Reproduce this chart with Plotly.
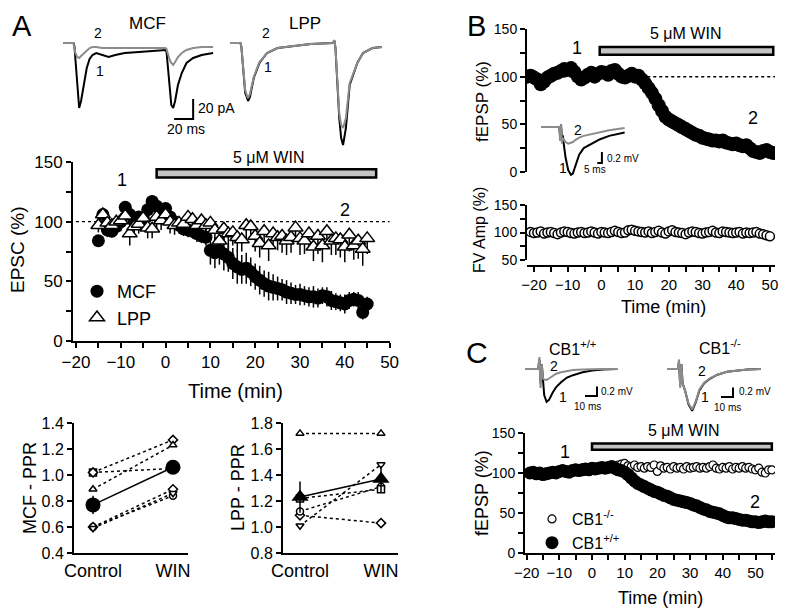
import plotly.graph_objects as go

W, H = 800, 614
OFF = 8   # the page body adds an 8 px margin; layout positions below are in screen pixels
FONT = 'Liberation Sans, Arial, sans-serif'
GRAY = '#8c8c8c'
BAR_FILL = '#c4c4c4'

# ---------------- data ----------------
# Panel A, EPSC time course (% of baseline), 1-min bins
a_time = list(range(-15, 46))
a_mcf = [84, 106, 93, 92, 96, 100, 112, 106, 100, 104, 103, 110, 117, 113, 107, 111,
         104, 100, 97, 94, 93, 92, 90, 88, 87,
         76, 74, 76, 73, 70, 65, 62, 60, 61, 58, 54, 51, 48, 46, 45, 44,
         43, 41, 40, 39, 39, 38, 37, 37, 36, 38, 37, 34, 33, 32, 31, 34, 35, 34, 24, 31]
a_mcf_err = [4, 5, 6, 5, 5, 6, 4, 5, 5, 4, 5, 4, 5, 5, 4, 5,
             5, 5, 6, 5, 6, 6, 7, 6, 7,
             12, 13, 12, 14, 12, 13, 14, 12, 13, 12, 11, 12, 11, 12, 11, 10,
             9, 10, 9, 8, 9, 8, 8, 9, 8, 7, 8, 8, 7, 7, 8, 7, 6, 7, 6, 6]
a_lpp = [97, 106, 99, 97, 100, 101, 105, 90, 96, 98, 103, 95, 94, 104, 101, 106,
         100, 97, 99, 98, 104, 102, 97, 101, 97, 99, 93, 84, 94, 90, 91, 87, 85, 97, 96,
         88, 82, 92, 80, 90, 87, 88, 84, 87, 95, 86, 84, 90, 79, 88, 80, 92, 84, 86, 85,
         79, 89, 80, 84, 77, 86]
a_lpp_err = [6, 8, 7, 8, 10, 9, 8, 10, 9, 8, 7, 9, 8, 10, 8, 9, 10, 8, 9, 10,
             11, 9, 10, 12, 9, 10, 11, 10, 12, 13, 11, 12, 10, 12, 11, 13, 12, 10, 13, 12,
             11, 14, 12, 13, 12, 14, 11, 13, 12, 15, 14, 13, 12, 14, 15, 13, 14, 12, 15, 14, 13]
a_win = [-2, 47]          # drug application (min)

# Panel A, example EPSC traces (ms, pA)
mcf_t = [0, 11, 12, 13, 15, 17, 19, 22, 25, 28, 31, 35, 41, 48, 55, 65, 80, 95, 108, 109,
         110, 112, 114, 116, 118, 121, 125, 130, 137, 146, 158]
mcf_1 = [0, 0, -3, -17, -45, -65, -58, -40, -25, -16, -12, -10, -12, -14, -12, -10, -9, -8, -7, -9,
         -20, -45, -62, -65, -58, -42, -30, -20, -15, -12, -10]
mcf_2 = [0, 0, -5, -10, -14, -15, -13, -10, -7, -5, -4, -4, -5, -5, -5, -5, -5, -5, -5, -6,
         -10, -16, -20, -22, -19, -14, -10, -7, -5, -4, -4]
lpp_t = [0, 11, 12, 14, 16, 18, 19, 21, 25, 31, 39, 50, 66, 85, 108, 110, 111, 113, 115, 117,
         119, 122, 126, 134, 140, 150, 160]
lpp_1 = [0, 0, -4, -30, -50, -55, -58, -54, -35, -20, -10, -5, -3, -1, 0, 2, -5, -40, -75, -95,
         -102, -85, -42, -20, -10, -5, -4]
lpp_2 = [0, 0, -4, -28, -47, -53, -55, -51, -34, -19, -10, -5, -3, -1, 0, 3, -5, -38, -70, -82,
         -85, -75, -40, -20, -10, -5, -4]

# Panel A, paired-pulse ratios
ppr_x = [0, 1]
ppr_labels = ['Control', 'WIN']
mcf_cells = [[1.02, 1.05], [1.02, 1.27], [0.89, 1.23], [0.60, 0.84], [0.60, 0.89], [0.59, 0.86]]
mcf_syms = ['square', 'diamond', 'triangle-up', 'circle', 'diamond', 'triangle-down']
mcf_mean = [0.77, 1.06]
mcf_sem = [0.07, 0.05]
lpp_cells = [[1.72, 1.72], [1.01, 1.48], [1.09, 1.03], [1.12, 1.31], [1.22, 1.29]]
lpp_syms = ['triangle-up', 'triangle-down', 'diamond', 'circle', 'square']
lpp_mean = [1.23, 1.37]
lpp_sem = [0.12, 0.10]

# Panel B, fEPSP and fibre volley
b_time = list(range(-22, 52))
b_fepsp = [100, 101, 99, 97, 92, 95, 99, 101, 103, 104,
           106, 108, 107, 109, 105, 100, 97, 99, 102, 104,
           100, 103, 105, 104, 102, 106, 107, 103, 100, 99,
           101, 103, 100, 101, 97, 93, 88, 83, 77, 70,
           64, 58, 55, 53, 51, 49, 47, 45, 43, 41,
           39, 38, 36, 35, 34, 33, 33, 32, 33, 31,
           30, 29, 30, 28, 27, 28, 25, 22, 21, 20,
           22, 23, 21, 20]
fv_time = list(range(-21, 51))
fv_amp = [101, 99, 100, 102, 98, 100, 101, 99, 97, 100,
          102, 101, 99, 98, 100, 101, 99, 100, 102, 100,
          98, 101, 100, 99, 101, 103, 101, 99, 100, 104,
          105, 103, 102, 101, 100, 102, 99, 101, 103, 100,
          98, 102, 104, 101, 100, 99, 97, 100, 102, 101,
          99, 98, 100, 101, 103, 100, 99, 102, 101, 100,
          99, 100, 101, 98, 100, 99, 100, 101, 98, 97,
          95, 93]
fv_err = [3, 2, 3, 3, 2, 3, 3, 2, 3, 3, 2, 3, 3, 2, 3, 3, 2, 3, 3, 2,
          3, 3, 2, 3, 3, 3, 3, 2, 3, 3, 3, 3, 2, 3, 3, 3, 3, 3, 3, 3,
          3, 4, 3, 3, 4, 3, 3, 4, 3, 3, 4, 3, 4, 4, 3, 4, 4, 3, 4, 4,
          4, 4, 5, 4, 4, 5, 4, 5, 5, 6, 6, 8]
b_win = [-0.5, 51]
b_t = [0, 20, 21, 22, 23, 24, 25, 27, 30, 33, 35, 38, 42, 47, 56, 65, 75, 92]
b_1 = [0, 0, -0.15, 0.05, -0.2, -0.15, -0.3, -0.55, -0.78, -0.86, -0.84, -0.7, -0.5, -0.38, -0.3, -0.22, -0.16, -0.1]
b_2 = [0, 0, -0.25, 0.05, -0.3, -0.2, -0.22, -0.27, -0.3, -0.29, -0.27, -0.23, -0.19, -0.16, -0.13, -0.1, -0.06, -0.02]

# Panel C, CB1 knockout vs wild type
c_time = list(range(-19, 56))
c_wt = [100, 101, 99, 100, 98, 99, 100, 101, 100, 102, 103, 102, 101, 103, 104, 103, 104, 105, 104,
        106, 105, 106, 107, 106, 107, 108, 106, 104, 103, 101, 98, 94, 90, 87, 85, 83, 81, 79, 77,
        76, 74, 72, 71, 69, 67, 66, 65, 64, 63, 62, 60, 59, 57, 55, 54, 52, 51, 50, 49, 47, 45,
        44, 44, 43, 42, 41, 41, 40, 39, 39, 38, 39, 40, 39, 39]
c_ko = [99, 100, 101, 99, 100, 101, 100, 102, 101, 103, 102, 104, 103, 104, 105, 104, 106, 105, 106,
        107, 106, 107, 108, 107, 108, 109, 108, 110, 111, 112, 109, 108, 110, 107, 108, 106, 108, 107,
        110, 102, 109, 106, 107, 105, 108, 106, 107, 105, 108, 106, 107, 108, 106, 107, 106, 108, 110,
        106, 105, 107, 106, 108, 105, 107, 106, 108, 106, 107, 105, 104, 106, 101, 100, 104, 104]
c_win = [0, 55]
cw_t = [0, 11, 12, 13, 14, 15, 16, 18, 20, 23, 26, 30, 35, 40, 48, 56, 65, 77]
cw_1 = [0, 0, 0.2, -0.3, 0.1, -0.35, -0.55, -0.69, -0.65, -0.5, -0.38, -0.28, -0.18, -0.13, -0.07, -0.03, -0.01, 0]
cw_2 = [0, 0, 0.25, -0.4, 0.1, -0.2, -0.22, -0.23, -0.2, -0.15, -0.1, -0.07, -0.04, -0.02, -0.01, 0, 0, 0]
ck_t = [0, 9, 10, 11, 12, 13, 15, 18, 21, 24, 27, 31, 36, 42, 50, 58, 67, 78]
ck_1 = [0, 0, 0.15, -0.35, 0.1, -0.3, -0.45, -0.75, -0.88, -0.7, -0.45, -0.3, -0.2, -0.12, -0.06, -0.03, -0.01, 0]
ck_2 = [0, 0, 0.2, -0.4, 0.1, -0.3, -0.45, -0.73, -0.85, -0.68, -0.43, -0.29, -0.19, -0.12, -0.06, -0.03, -0.01, 0]


# ---------------- helpers (screen pixel layout -> paper / axis ranges) ----------------
def px_x(p):
    return (p - OFF) / W


def px_y(p):
    return 1 - (p - OFF) / H


def dx(p0, p1):
    return [px_x(p0), px_x(p1)]


def dy(top, bottom):
    return [px_y(bottom), px_y(top)]


def xr(p0, p1, pref, vref, ppu):
    return [vref + (p0 - pref) / ppu, vref + (p1 - pref) / ppu]


def yr(top, bottom, pref, vref, ppu):
    return [vref - (bottom - pref) / ppu, vref - (top - pref) / ppu]


def ax(size, **kw):
    d = dict(showline=True, linecolor='black', linewidth=2, ticks='outside', ticklen=5,
             tickwidth=2, tickcolor='black', showgrid=False, zeroline=False, automargin=False,
             tickfont=dict(size=size, color='black', family=FONT))
    d.update(kw)
    return d


def hidden(**kw):
    d = dict(visible=False, showgrid=False, zeroline=False, fixedrange=True, automargin=False)
    d.update(kw)
    return d


def minor(step):
    return dict(dtick=step, ticks='outside', ticklen=5, tickwidth=2, tickcolor='black')


fig = go.Figure()

# ---- A main ----
fig.add_trace(go.Scatter(x=a_time, y=a_mcf, mode='markers', name='MCF', legend='legend',
                         marker=dict(size=13, color='black'),
                         error_y=dict(type='data', array=a_mcf_err, color='black', thickness=1.5, width=0),
                         xaxis='x', yaxis='y'))
fig.add_trace(go.Scatter(x=a_time, y=a_lpp, mode='markers', name='LPP', legend='legend',
                         marker=dict(size=13, symbol='triangle-up', color='white',
                                     line=dict(color='black', width=1.5)),
                         error_y=dict(type='data', symmetric=False, array=[0] * len(a_lpp),
                                      arrayminus=a_lpp_err, color='black', thickness=1.5, width=0),
                         xaxis='x', yaxis='y'))

# ---- A PPR ----
for cell, sym in zip(mcf_cells, mcf_syms):
    fig.add_trace(go.Scatter(x=ppr_x, y=cell, mode='lines+markers', showlegend=False,
                             line=dict(color='black', width=1.5, dash='dot'),
                             marker=dict(symbol=sym, size=7, color='white', line=dict(color='black', width=1.5)),
                             xaxis='x2', yaxis='y2'))
fig.add_trace(go.Scatter(x=ppr_x, y=mcf_mean, mode='lines+markers', showlegend=False,
                         line=dict(color='black', width=1.5), marker=dict(size=15, color='black'),
                         error_y=dict(type='data', array=mcf_sem, color='black', thickness=1.5, width=0),
                         xaxis='x2', yaxis='y2'))
for cell, sym in zip(lpp_cells, lpp_syms):
    fig.add_trace(go.Scatter(x=ppr_x, y=cell, mode='lines+markers', showlegend=False,
                             line=dict(color='black', width=1.5, dash='dot'),
                             marker=dict(symbol=sym, size=7, color='white', line=dict(color='black', width=1.5)),
                             xaxis='x3', yaxis='y3'))
fig.add_trace(go.Scatter(x=ppr_x, y=lpp_mean, mode='lines+markers', showlegend=False,
                         line=dict(color='black', width=1.5),
                         marker=dict(size=15, symbol='triangle-up', color='black'),
                         error_y=dict(type='data', array=lpp_sem, color='black', thickness=1.5, width=0),
                         xaxis='x3', yaxis='y3'))

# ---- B ----
fig.add_trace(go.Scatter(x=b_time, y=b_fepsp, mode='markers', showlegend=False,
                         marker=dict(size=14, color='black'), xaxis='x4', yaxis='y4'))
fig.add_trace(go.Scatter(x=fv_time, y=fv_amp, mode='markers', showlegend=False,
                         marker=dict(size=9, color='white', line=dict(color='black', width=1.5)),
                         error_y=dict(type='data', array=fv_err, color='black', thickness=1.5, width=0),
                         xaxis='x5', yaxis='y5'))

# ---- C ----
fig.add_trace(go.Scatter(x=c_time, y=c_ko, mode='markers', name='CB1<sup>-/-</sup>', legend='legend2',
                         marker=dict(size=8, color='white', line=dict(color='black', width=1.2)),
                         xaxis='x6', yaxis='y6'))
fig.add_trace(go.Scatter(x=c_time, y=c_wt, mode='markers', name='CB1<sup>+/+</sup>', legend='legend2',
                         marker=dict(size=13, color='black'), xaxis='x6', yaxis='y6'))


# ---- example traces ----
def trace_pair(t, v1, v2, xa, ya):
    fig.add_trace(go.Scatter(x=t, y=v1, mode='lines', showlegend=False,
                             line=dict(color='black', width=2), xaxis=xa, yaxis=ya))
    fig.add_trace(go.Scatter(x=t, y=v2, mode='lines', showlegend=False,
                             line=dict(color=GRAY, width=2), xaxis=xa, yaxis=ya))


def scale_bar(t_end, v_low, dt, dv, xa, ya):
    fig.add_trace(go.Scatter(x=[t_end - dt, t_end, t_end], y=[v_low, v_low, v_low + dv],
                             mode='lines', showlegend=False, line=dict(color='black', width=2),
                             xaxis=xa, yaxis=ya))


trace_pair(mcf_t, mcf_1, mcf_2, 'x7', 'y7')
scale_bar(137, -76, 20, 20, 'x7', 'y7')
trace_pair(lpp_t, lpp_1, lpp_2, 'x8', 'y8')
trace_pair(b_t, b_1, b_2, 'x9', 'y9')
scale_bar(67, -0.65, 5, 0.2, 'x9', 'y9')
trace_pair(cw_t, cw_1, cw_2, 'x10', 'y10')
scale_bar(60, -0.57, 10, 0.2, 'x10', 'y10')
trace_pair(ck_t, ck_1, ck_2, 'x11', 'y11')
scale_bar(55, -0.59, 10, 0.2, 'x11', 'y11')

# ---------------- shapes: drug bars and baseline lines ----------------
shapes = []
for xref, yref, win, ylo, yhi in [('x', 'y', a_win, 137, 144), ('x4', 'y4', b_win, 123, 131),
                                  ('x6', 'y6', c_win, 129, 137)]:
    shapes.append(dict(type='rect', xref=xref, yref=yref, x0=win[0], x1=win[1], y0=ylo, y1=yhi,
                       fillcolor=BAR_FILL, line=dict(color='black', width=2.5)))
shapes.append(dict(type='line', xref='x', yref='y', x0=-20, x1=50, y0=100, y1=100,
                   line=dict(color='black', width=1.2, dash='dot'), layer='below'))
shapes.append(dict(type='line', xref='x4', yref='y4', x0=-22, x1=51.5, y0=100, y1=100,
                   line=dict(color='black', width=1.5, dash='dot'), layer='below'))

# ---------------- text ----------------
ann = []


def label(text, px, py, size, xanchor='center', angle=0):
    ann.append(dict(text=text, x=px_x(px), y=px_y(py), xref='paper', yref='paper',
                    xanchor=xanchor, yanchor='middle', showarrow=False, textangle=angle,
                    font=dict(size=size, color='black', family=FONT)))


label('A', 22, 26, 29)
label('B', 476, 26, 29)
label('C', 477, 352, 30)
label('MCF', 147, 23, 17)
label('LPP', 305, 23, 17)
label('2', 98, 33, 14)
label('1', 100, 71, 14)
label('2', 266, 33, 14)
label('1', 268, 67, 14)
label('20 pA', 196, 108, 14, 'left')
label('20 ms', 186, 129, 14)
label('5 \u03bcM WIN', 268, 157, 16)
label('1', 122, 180, 18)
label('2', 345, 210, 18)
label('EPSC (%)', 18, 250, 19, angle=-90)
label('Time (min)', 236, 391, 20)
label('MCF - PPR', 30, 488, 18, angle=-90)
label('LPP - PPR', 238, 487, 18, angle=-90)
label('5 \u03bcM WIN', 685, 33, 16)
label('1', 577, 48, 18)
label('2', 753, 118, 18)
label('2', 578, 130, 14)
label('1', 563, 168, 14)
label('0.2 mV', 605, 158, 10, 'left')
label('5 ms', 595, 169, 10)
label('fEPSP (%)', 482, 102, 17, angle=-90)
label('FV Amp (%)', 480, 230, 16, angle=-90)
label('Time (min)', 663, 307, 18)
label('CB1<sup>+/+</sup>', 572, 348, 16)
label('CB1<sup>-/-</sup>', 720, 347, 16)
label('2', 554, 366, 14)
label('1', 563, 397, 14)
label('0.2 mV', 599, 391, 10, 'left')
label('10 ms', 587, 406, 10)
label('2', 702, 371, 14)
label('1', 705, 397, 14)
label('0.2 mV', 737, 392, 10, 'left')
label('10 ms', 727, 407, 10)
label('5 \u03bcM WIN', 683, 430, 16)
label('1', 565, 452, 18)
label('2', 755, 502, 18)
label('fEPSP (%)', 482, 493, 18, angle=-90)
label('Time (min)', 660, 598, 18)

fig.update_layout(
    width=W, height=H, margin=dict(l=0, r=0, t=0, b=0, autoexpand=False),
    paper_bgcolor='white', plot_bgcolor='rgba(0,0,0,0)',
    font=dict(family=FONT, color='black'),
    shapes=shapes, annotations=ann,
    legend=dict(x=px_x(77), y=px_y(273), xanchor='left', yanchor='top', bgcolor='rgba(0,0,0,0)',
                font=dict(size=18, family=FONT), itemsizing='trace', tracegroupgap=0),
    legend2=dict(x=px_x(532), y=px_y(502), xanchor='left', yanchor='top', bgcolor='rgba(0,0,0,0)',
                 font=dict(size=16, family=FONT), itemsizing='trace', tracegroupgap=0),
    # A main
    xaxis=ax(17, domain=dx(73, 390), range=xr(73, 390, 76, -20, 4.48), anchor='y',
             tickvals=list(range(-20, 51, 10)), minor=minor(5)),
    yaxis=ax(17, domain=dy(162, 341), range=[0, 150], anchor='x',
             tickvals=[0, 50, 100, 150], minor=minor(25)),
    # A PPR
    xaxis2=ax(18, domain=dx(74, 188), range=xr(74, 188, 93, 0, 80), anchor='y2',
              tickvals=ppr_x, ticktext=ppr_labels, ticks=''),
    yaxis2=ax(16, domain=dy(423, 553), range=[0.4, 1.4], anchor='x2', dtick=0.2, tickformat='.1f'),
    xaxis3=ax(18, domain=dx(283, 398), range=xr(283, 398, 300, 0, 81), anchor='y3',
              tickvals=ppr_x, ticktext=ppr_labels, ticks=''),
    yaxis3=ax(16, domain=dy(423, 553), range=[0.8, 1.8], anchor='x3', dtick=0.2, tickformat='.1f'),
    # B
    xaxis4=hidden(domain=dx(527, 775), range=xr(527, 775, 534, -20, 3.37), anchor='y4'),
    yaxis4=ax(14, domain=dy(29, 172), range=[0, 150], anchor='x4',
              tickvals=[0, 50, 100, 150], minor=minor(25)),
    xaxis5=ax(15, domain=dx(527, 775), range=xr(527, 775, 534, -20, 3.37), anchor='free',
              position=px_y(266), tickvals=list(range(-20, 51, 10)), minor=minor(5)),
    yaxis5=ax(14, domain=dy(205, 260), range=[50, 150], anchor='x5',
              tickvals=[50, 100, 150], minor=minor(25)),
    # C
    xaxis6=ax(15, domain=dx(525, 775), range=xr(525, 775, 592, 0, 3.27), anchor='y6',
              tickvals=list(range(-20, 51, 10)), minor=minor(5)),
    yaxis6=ax(14, domain=dy(433, 553), range=[0, 150], anchor='x6',
              tickvals=[0, 50, 100, 150], minor=minor(25)),
    # trace insets
    xaxis7=hidden(domain=dx(58, 240), range=xr(58, 240, 63, 0, 0.95), anchor='y7'),
    yaxis7=hidden(domain=dy(8, 150), range=yr(8, 150, 43, 0, 1.0), anchor='x7'),
    xaxis8=hidden(domain=dx(222, 395), range=xr(222, 395, 230, 0, 0.95), anchor='y8'),
    yaxis8=hidden(domain=dy(8, 152), range=yr(8, 152, 43, 0, 1.0), anchor='x8'),
    xaxis9=hidden(domain=dx(535, 650), range=xr(535, 650, 541, 0, 1 / 1.1), anchor='y9'),
    yaxis9=hidden(domain=dy(105, 185), range=yr(105, 185, 127, 0, 1 / 0.018), anchor='x9'),
    xaxis10=hidden(domain=dx(518, 640), range=xr(518, 640, 525, 0, 1.2), anchor='y10'),
    yaxis10=hidden(domain=dy(355, 415), range=yr(355, 415, 369, 0, 47.5), anchor='x10'),
    xaxis11=hidden(domain=dx(660, 775), range=xr(660, 775, 667, 0, 1.2), anchor='y11'),
    yaxis11=hidden(domain=dy(355, 420), range=yr(355, 420, 369, 0, 47.5), anchor='x11'),
)

fig.write_html("out.html")
